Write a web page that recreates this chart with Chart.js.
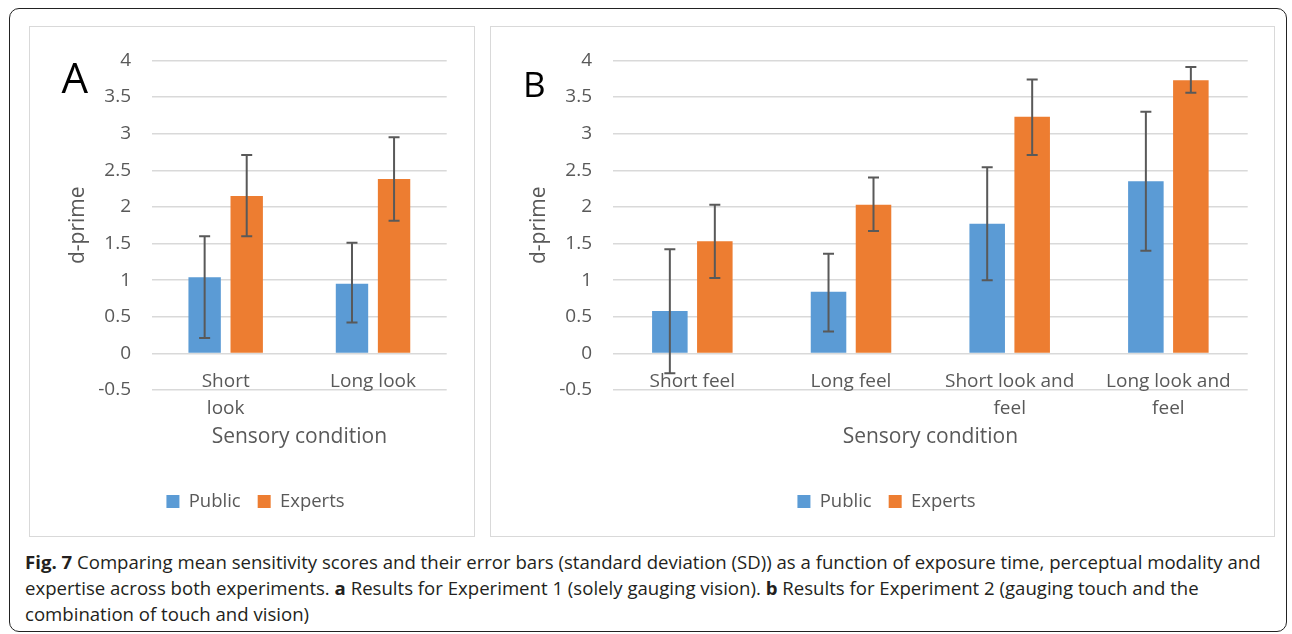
<!DOCTYPE html>
<html>
<head>
<meta charset="utf-8">
<title>Fig. 7 d-prime by sensory condition</title>
<script src="https://cdn.jsdelivr.net/npm/chart.js@4.4.1/dist/chart.umd.min.js"></script>
<style>
  html, body { margin: 0; padding: 0; background: #fff; }
  body { width: 1292px; height: 634px; position: relative; overflow: hidden; font-family: 'Open Sans', sans-serif; }
  .frame { position: absolute; left: 9px; top: 8px; width: 1278px; height: 624px; border: 1.5px solid #222; border-radius: 10px; box-sizing: border-box; }
  .panel { position: absolute; border: 1.5px solid #d9d9d9; box-sizing: border-box; }
  #panelA { left: 29px; top: 25.5px; width: 445.5px; height: 511.5px; }
  #panelB { left: 489.5px; top: 25.5px; width: 785px; height: 511px; }
  canvas { position: absolute; }
  #chartA { left: 31px; top: 28px; }
  #chartB { left: 492px; top: 28px; }
  .caption { position: absolute; left: 25px; top: 548.5px; font-size: 18.6px; line-height: 26px; color: #231f20; white-space: nowrap; }
  .caption b { font-weight: 700; }
</style>
</head>
<body>
<div class="frame"></div>
<div class="panel" id="panelA"></div>
<div class="panel" id="panelB"></div>
<canvas id="chartA" width="441" height="507"></canvas>
<canvas id="chartB" width="781" height="507"></canvas>
<div class="caption">
  <b>Fig. 7</b> Comparing mean sensitivity scores and their error bars (standard deviation (SD)) as a function of exposure time, perceptual modality and<br>
  expertise across both experiments. <b>a</b> Results for Experiment 1 (solely gauging vision). <b>b</b> Results for Experiment 2 (gauging touch and the<br>
  combination of touch and vision)
</div>
<script>
// Experiment 1: vision only
const categoriesA = [['Short', 'look'], 'Long look'];
const publicA = [1.04, 0.95];
const expertsA = [2.15, 2.38];
const publicLowA = [0.21, 0.42];
const publicHighA = [1.60, 1.51];
const expertsLowA = [1.60, 1.81];
const expertsHighA = [2.71, 2.95];

// Experiment 2: touch, and touch combined with vision
const categoriesB = ['Short feel', 'Long feel', ['Short look and', 'feel'], ['Long look and', 'feel']];
const publicB = [0.58, 0.84, 1.77, 2.35];
const expertsB = [1.53, 2.03, 3.23, 3.73];
const publicLowB = [-0.27, 0.30, 1.00, 1.40];
const publicHighB = [1.42, 1.36, 2.54, 3.30];
const expertsLowB = [1.03, 1.67, 2.71, 3.56];
const expertsHighB = [2.03, 2.40, 3.74, 3.91];

const seriesNames = ['Public', 'Experts'];
const yMin = -0.5;
const yMax = 4;
const yStep = 0.5;

const TEXT = '#595959';
const BLUE = '#5b9bd5';
const ORANGE = '#ed7d31';

Chart.defaults.font.family = "'Open Sans', sans-serif";
Chart.defaults.color = TEXT;

// Vertical SD whiskers with caps, positioned from each bar element and the y scale
const errorBarPlugin = {
  id: 'errorBars',
  afterDatasetsDraw(chart, args, opts) {
    const { ctx } = chart;
    const y = chart.scales.y;
    chart.data.datasets.forEach((ds, i) => {
      const meta = chart.getDatasetMeta(i);
      if (meta.hidden) return;
      meta.data.forEach((bar, j) => {
        const top = y.getPixelForValue(ds.errHigh[j]);
        const bot = y.getPixelForValue(ds.errLow[j]);
        ctx.save();
        ctx.strokeStyle = opts.color;
        ctx.lineWidth = opts.width;
        ctx.beginPath();
        ctx.moveTo(bar.x, top); ctx.lineTo(bar.x, bot);
        ctx.moveTo(bar.x - opts.cap, top); ctx.lineTo(bar.x + opts.cap, top);
        ctx.moveTo(bar.x - opts.cap, bot); ctx.lineTo(bar.x + opts.cap, bot);
        ctx.stroke();
        ctx.restore();
      });
    });
  }
};

// Large panel letter in the upper-left corner
const panelLetterPlugin = {
  id: 'panelLetter',
  afterDraw(chart, args, opts) {
    const { ctx } = chart;
    ctx.save();
    ctx.font = opts.size + "px 'Open Sans', sans-serif";
    ctx.fillStyle = '#000';
    ctx.textBaseline = 'alphabetic';
    ctx.textAlign = 'left';
    ctx.fillText(opts.text, opts.x, opts.y);
    ctx.restore();
  }
};

function buildChart(id, cfg) {
  return new Chart(document.getElementById(id), {
    type: 'bar',
    data: {
      labels: cfg.categories,
      datasets: [
        { label: seriesNames[0], data: cfg.pub, errLow: cfg.pubLow, errHigh: cfg.pubHigh,
          backgroundColor: BLUE, borderWidth: 0,
          categoryPercentage: cfg.catPct, barPercentage: cfg.barPct },
        { label: seriesNames[1], data: cfg.exp, errLow: cfg.expLow, errHigh: cfg.expHigh,
          backgroundColor: ORANGE, borderWidth: 0,
          categoryPercentage: cfg.catPct, barPercentage: cfg.barPct }
      ]
    },
    options: {
      responsive: false,
      animation: false,
      layout: { padding: { top: 24.7, left: 33.3, right: 25.3, bottom: 14.25 } },
      plugins: {
        legend: {
          position: 'bottom',
          labels: { boxWidth: 13, boxHeight: 13, padding: 17, color: TEXT, font: { size: 18.5 } }
        },
        tooltip: { enabled: false },
        errorBars: { color: '#595959', width: 2, cap: 5.5 },
        panelLetter: cfg.letter
      },
      scales: {
        x: {
          grid: { display: false, drawTicks: false },
          border: { display: false },
          ticks: { color: TEXT, font: { size: 19, lineHeight: 1.4 }, padding: -21.6, maxRotation: 0, autoSkip: false },
          title: { display: true, text: 'Sensory condition', color: TEXT, font: { size: 21, lineHeight: 1.2 }, padding: { top: 0, bottom: 25.95 } },
          afterFit(s) {
            s.height = 85.25;
            // category labels sit just under the zero line, above the axis box, so keep them unclipped
            s._computeLabelArea = () => undefined;
          }
        },
        y: {
          min: yMin,
          max: yMax,
          ticks: {
            stepSize: yStep, color: TEXT, font: { size: 19 }, padding: 21,
            callback: v => String(Number(v.toFixed(1)))
          },
          grid: { color: '#d9d9d9', lineWidth: 1.5, drawTicks: false },
          border: { display: false },
          title: { display: true, text: 'd-prime', color: TEXT, font: { size: 21, lineHeight: 1.2 }, padding: { top: 1, bottom: 0 } },
          afterFit(s) { s.width = 87.7; }
        }
      }
    },
    plugins: [errorBarPlugin, panelLetterPlugin]
  });
}

buildChart('chartA', {
  categories: categoriesA, pub: publicA, exp: expertsA,
  pubLow: publicLowA, pubHigh: publicHighA, expLow: expertsLowA, expHigh: expertsHighA,
  catPct: 0.571, barPct: 0.77,
  letter: { text: 'A', size: 42, x: 30.5, y: 65.3 }
});

buildChart('chartB', {
  categories: categoriesB, pub: publicB, exp: expertsB,
  pubLow: publicLowB, pubHigh: publicHighB, expLow: expertsLowB, expHigh: expertsHighB,
  catPct: 0.567, barPct: 0.79,
  letter: { text: 'B', size: 35, x: 31, y: 68.7 }
});
</script>
</body>
</html>
